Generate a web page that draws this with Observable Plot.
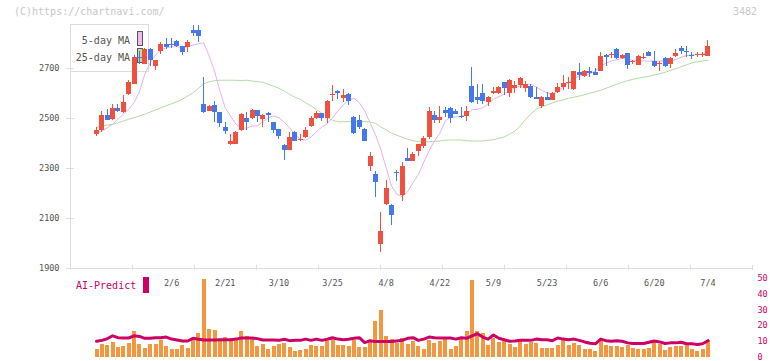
<!DOCTYPE html>
<html>
<head>
<meta charset="utf-8">
<script src="https://cdn.jsdelivr.net/npm/d3@7"></script>
<script src="https://cdn.jsdelivr.net/npm/@observablehq/plot@0.6"></script>
<style>
  html, body { margin: 0; padding: 0; background: #fff; }
  #chart { position: relative; width: 772px; height: 361px; overflow: hidden;
           font-family: "DejaVu Sans Mono", "Liberation Mono", monospace; }
  #chart svg { position: absolute; left: 0; z-index: 1; }
  .wm { position: absolute; top: 5px; font-size: 10px; line-height: 14px; color: #c8c8c8; z-index: 2; white-space: pre; }
  #legend { position: absolute; left: 70px; top: 24px; width: 77px; height: 46px;
            border: 1px solid #dcdcdc; z-index: 0; font-size: 10px; color: #555; }
  #legend .lbl { position: absolute; right: 18px; line-height: 12px; white-space: pre; }
  #legend .sw { position: absolute; left: 66px; width: 4px; height: 13px; border: 1px solid #555; }
  #ai { position: absolute; left: 76px; top: 280px; font-size: 10px; line-height: 12px; color: #cc0066; z-index: 2; }
  #aibox { position: absolute; left: 143px; top: 277px; width: 6px; height: 16px; background: #cc0066; z-index: 2; }
</style>
</head>
<body>
<div id="chart">
  <div class="wm" style="left:14px">(C)https://chartnavi.com/</div>
  <div class="wm" id="code" style="right:15px"></div>
  <div id="legend">
    <span class="lbl" style="top:10px">5-day MA</span>
    <span class="sw" style="top:6px;background:#eebbee"></span>
    <span class="lbl" style="top:27px">25-day MA</span>
    <span class="sw" style="top:23px;background:#bbdda8"></span>
  </div>
  <div id="ai">AI-Predict</div>
  <div id="aibox"></div>
</div>
<script>
// ---- data ----
const stockCode = "3482";
const dates = [
  "1/17","1/20","1/21","1/22","1/23","1/24","1/27","1/28","1/29","1/30","1/31",
  "2/3","2/4","2/5","2/6","2/7","2/10","2/12","2/13","2/14","2/17","2/18","2/19","2/20","2/21","2/25","2/26","2/27","2/28",
  "3/3","3/4","3/5","3/6","3/7","3/10","3/11","3/12","3/13","3/14","3/17","3/18","3/19","3/21","3/24","3/25","3/26","3/27","3/28","3/31",
  "4/1","4/2","4/3","4/4","4/7","4/8","4/9","4/10","4/11","4/14","4/15","4/16","4/17","4/18","4/21","4/22","4/23","4/24","4/25","4/28","4/30",
  "5/1","5/2","5/7","5/8","5/9","5/12","5/13","5/14","5/15","5/16","5/19","5/20","5/21","5/22","5/23","5/26","5/27","5/28","5/29","5/30",
  "6/2","6/3","6/4","6/5","6/6","6/9","6/10","6/11","6/12","6/13","6/16","6/17","6/18","6/19","6/20","6/23","6/24","6/25","6/26","6/27","6/30",
  "7/1","7/2","7/3","7/4"
];
const open = [
  2435,2451,2514,2498,2542,2525,2598,2638,2745,2717,
  2777,2707,2770,2797,2798,2810,2787,2783,2854,2854,
  2557,2530,2554,2523,2463,2397,2398,2451,2501,2502,
  2531,2498,2522,2483,2456,2394,2374,2445,2413,2426,
  2470,2499,2519,2501,2592,2607,2581,2598,2506,2494,
  2458,2310,2278,1995,2158,2154,2285,2194,2341,2330,
  2367,2390,2425,2514,2494,2533,2541,2527,2510,2510,
  2630,2586,2601,2563,2599,2599,2643,2599,2619,2633,
  2621,2630,2586,2550,2583,2574,2606,2623,2640,2617,
  2686,2670,2690,2683,2690,2753,2753,2777,2739,2760,
  2726,2713,2740,2763,2730,2716,2741,2717,2747,2781,
  2770,2754,2753,2753,2750
];
const close = [
  2454,2514,2494,2542,2529,2565,2645,2745,2740,2777,
  2731,2731,2797,2783,2794,2787,2763,2806,2841,2827,
  2523,2550,2523,2479,2447,2410,2445,2518,2485,2531,
  2507,2511,2511,2451,2430,2374,2423,2410,2417,2454,
  2500,2519,2500,2567,2598,2600,2594,2570,2439,2466,
  2410,2350,2243,2050,2219,2114,2280,2310,2330,2357,
  2395,2422,2530,2494,2506,2519,2501,2517,2503,2530,
  2563,2574,2567,2586,2610,2626,2621,2653,2633,2659,
  2637,2583,2577,2584,2574,2601,2623,2639,2644,2687,
  2674,2690,2679,2673,2750,2743,2757,2739,2754,2713,
  2730,2750,2744,2750,2707,2720,2710,2741,2759,2767,
  2763,2747,2757,2757,2790
];
const high = [
  2465,2527,2538,2558,2558,2591,2654,2751,2770,2780,
  2780,2733,2803,2821,2821,2813,2790,2814,2874,2874,
  2663,2553,2570,2526,2483,2437,2450,2522,2525,2537,
  2534,2517,2525,2486,2458,2398,2443,2450,2437,2466,
  2508,2530,2522,2573,2634,2613,2615,2602,2509,2514,
  2461,2363,2290,2123,2254,2156,2294,2326,2381,2366,
  2398,2430,2546,2530,2550,2546,2543,2535,2543,2550,
  2703,2637,2637,2590,2626,2630,2646,2657,2650,2666,
  2650,2637,2623,2587,2606,2606,2639,2674,2663,2690,
  2719,2692,2703,2701,2763,2757,2766,2779,2757,2762,
  2733,2752,2759,2767,2770,2730,2743,2743,2777,2790,
  2790,2763,2763,2763,2813
];
const low = [
  2429,2445,2491,2491,2525,2521,2594,2635,2718,2715,
  2707,2691,2757,2777,2779,2783,2754,2763,2830,2803,
  2521,2527,2483,2463,2437,2394,2395,2447,2451,2498,
  2483,2466,2483,2439,2417,2334,2371,2408,2410,2419,
  2463,2495,2490,2479,2567,2577,2563,2554,2436,2458,
  2407,2287,2186,1963,2154,2074,2248,2167,2328,2327,
  2350,2380,2417,2482,2482,2503,2482,2515,2500,2487,
  2561,2557,2557,2550,2597,2596,2594,2583,2599,2621,
  2603,2581,2575,2541,2572,2572,2599,2613,2617,2613,
  2652,2663,2666,2671,2688,2710,2740,2737,2737,2697,
  2717,2711,2738,2747,2705,2687,2706,2701,2745,2757,
  2743,2737,2743,2743,2748
];
const ma5 = [
  2441,2450,2463,2477,2497,2517,2537,2563,2607,2677,
  2723,2754,2774,2783,2787,2787,2783,2787,2793,2799,
  2803,2750,2690,2610,2543,2510,2477,2463,2461,2470,
  2471,2487,2503,2510,2503,2486,2463,2437,2417,2413,
  2426,2447,2466,2479,2503,2530,2554,2573,2581,2563,
  2530,2483,2435,2377,2303,2230,2197,2188,2207,2243,
  2275,2325,2370,2410,2440,2490,2506,2506,2510,2519,
  2535,2537,2543,2557,2577,2587,2597,2613,2623,2631,
  2637,2637,2626,2613,2602,2599,2610,2626,2643,2658,
  2669,2675,2679,2690,2710,2722,2730,2735,2741,2737,
  2733,2730,2730,2730,2730,2730,2730,2731,2736,2745,
  2752,2754,2756,2758,2762
];
const ma25 = [
  2465,2469,2474,2477,2483,2490,2497,2503,2510,2517,
  2526,2534,2543,2551,2559,2567,2577,2590,2603,2621,
  2639,2647,2651,2653,2653,2653,2653,2652,2653,2650,
  2647,2645,2637,2629,2621,2610,2597,2585,2577,2563,
  2550,2536,2522,2506,2493,2487,2487,2488,2488,2488,
  2488,2486,2481,2466,2455,2441,2433,2425,2417,2411,
  2408,2407,2407,2409,2410,2413,2414,2414,2414,2411,
  2410,2410,2410,2413,2415,2421,2426,2437,2450,2470,
  2497,2519,2537,2546,2554,2562,2570,2574,2581,2585,
  2590,2595,2601,2607,2613,2621,2629,2637,2645,2651,
  2657,2661,2665,2669,2674,2679,2685,2693,2699,2707,
  2715,2722,2727,2730,2733
];
const volume = [
  4.8,7.7,7.1,9.4,6.2,6.9,8.7,16,7.7,5.2,
  8.1,7.7,10.2,6.9,4.6,4.6,7.1,5.2,11.4,15.2,
  49.6,17.7,17.1,11.4,12.5,11.4,10.2,16.5,13.1,12.7,
  6.7,7.7,4.8,6.7,7.7,8.3,6.0,3.3,3.9,5.0,
  7.1,6.5,6.5,9.8,11.4,7.1,7.1,6.5,10.8,6.0,
  6.0,9.4,22.5,29.8,13.3,11.4,8.9,11.9,7.7,9.8,
  6.7,4.8,10.4,8.3,9.8,11.0,4.8,6.7,11.0,16.5,
  48.5,16.5,15.2,7.1,11.9,9.2,9.9,8.2,6.0,9.8,
  7.7,9.4,8.3,5.2,5.2,5.2,7.5,10.6,7.1,8.9,
  7.1,5.0,4.6,3.3,9.6,7.1,6.7,6.5,6.0,7.3,
  5.2,4.8,4.8,5.4,9.4,7.7,4.2,6.0,6.5,6.9,
  7.7,4.8,3.5,4.8,10.2
];
const aiPredict = [
  10.0,10.6,11.6,13.5,12.3,12.1,12.1,13.5,13.1,11.9,
  11.9,12.3,12.3,12.7,11.4,10.8,10.2,10.2,11.9,11.3,
  10.8,10.8,10.8,11.0,11.0,11.0,11.4,12.1,12.1,12.1,
  11.7,10.8,10.8,10.8,10.6,11.3,10.4,10.6,10.6,11.4,
  10.6,11.4,10.6,11.3,12.3,11.4,11.0,11.3,11.9,12.3,
  9.2,10.4,9.8,9.8,9.8,9.8,10.2,10.6,11.9,12.3,
  10.6,11.4,12.7,12.3,12.1,12.1,12.1,11.4,12.3,11.9,
  13.5,14.8,12.7,11.4,14.0,11.9,11.0,10.0,10.2,10.6,
  10.6,10.6,11.4,11.0,11.0,10.4,12.1,11.4,11.0,11.4,
  10.6,9.6,8.8,8.4,11.4,10.4,10.0,10.4,10.0,9.0,
  8.6,8.6,8.6,9.4,10.2,9.6,8.6,9.0,9.0,9.4,
  8.4,8.4,8.0,8.4,10.4
];
const priceTicks = [1900, 2100, 2300, 2500, 2700];
const aiTicks = [0, 10, 20, 30, 40, 50];
const dateLabels = ["2/6","2/21","3/10","3/25","4/8","4/22","5/9","5/23","6/6","6/20","7/4"];

// ---- build ----
document.getElementById("code").textContent = stockCode;
const candles = dates.map((d, i) => ({
  i, date: d, open: open[i], close: close[i], high: high[i], low: low[i],
  ma5: ma5[i], ma25: ma25[i], volume: volume[i], ai: aiPredict[i]
}));
const n = candles.length;
const xLo = -4.85, xHi = n - 1 + 8.3;
const gridTicks = d3.range(12).map(k => Math.min(xHi, xLo + k * (xHi - xLo) / 11));
const labelIdx = dateLabels.map(l => dates.indexOf(l));
const RED = "#f0503e", BLUE = "#4479ec", ORANGE = "#f2963f", AI = "#cc0066";
const up = candles.filter(d => d.close >= d.open);
const down = candles.filter(d => d.close < d.open);
const style = { fontFamily: "'DejaVu Sans Mono', monospace", fontSize: "8.5px", background: "transparent", color: "#555", overflow: "visible" };

const main = Plot.plot({
  width: 772, height: 272,
  marginLeft: 70, marginRight: 20, marginTop: 18, marginBottom: 4,
  x: { type: "linear", domain: [xLo, xHi], axis: null },
  y: { domain: [1900, 2900], axis: null },
  style,
  marks: [
    Plot.ruleY([priceTicks[0]], { stroke: "#dddddd" }),
    Plot.ruleX([xLo], { y1: priceTicks[0], y2: d3.max(high), stroke: "#dddddd" }),
    Plot.axisY({ anchor: "left", ticks: priceTicks, tickSize: 8, dx: 4, tickPadding: 7, label: null,
                 stroke: "#dddddd", fill: "#555", tickFormat: d => String(d) }),
    Plot.axisX({ anchor: "bottom", ticks: gridTicks, tickSize: 5, dy: -3, label: null,
                 stroke: "#dddddd", tickFormat: () => "" }),
    Plot.line(candles, { x: "i", y: "ma25", stroke: "#b4dba3", strokeWidth: 1 }),
    Plot.line(candles, { x: "i", y: "ma5", stroke: "#e8b2e8", strokeWidth: 1 }),
    Plot.ruleX(up, { x: "i", y1: "low", y2: "high", stroke: RED, shapeRendering: "crispEdges" }),
    Plot.ruleX(up, { x: "i", y1: "open", y2: "close", stroke: RED, strokeWidth: 5, shapeRendering: "crispEdges" }),
    Plot.ruleX(down, { x: "i", y1: "low", y2: "high", stroke: BLUE, shapeRendering: "crispEdges" }),
    Plot.ruleX(down, { x: "i", y1: "open", y2: "close", stroke: BLUE, strokeWidth: 5, shapeRendering: "crispEdges" })
  ]
});
main.style.top = "0px";

const vol = Plot.plot({
  width: 772, height: 89,
  marginLeft: 70, marginRight: 20, marginTop: 6, marginBottom: 4.5,
  x: { type: "linear", domain: [xLo, xHi], axis: null },
  y: { domain: [0, 50], axis: null },
  style,
  marks: [
    Plot.ruleX(candles, { x: "i", y1: 0, y2: "volume", stroke: ORANGE, strokeWidth: 4, shapeRendering: "crispEdges" }),
    Plot.line(candles, { x: "i", y: "ai", stroke: AI, strokeWidth: 3 }),
    Plot.axisY({ anchor: "right", ticks: aiTicks, tickSize: 0, tickPadding: 5, fill: AI, stroke: "none", label: null,
                 tickFormat: d => String(d) }),
    Plot.text(labelIdx, { x: d => d, text: d => dates[d], frameAnchor: "top", dy: 1, fill: "#555" })
  ]
});
vol.style.top = "272px";

const chart = document.getElementById("chart");
chart.appendChild(main);
chart.appendChild(vol);
</script>
</body>
</html>
